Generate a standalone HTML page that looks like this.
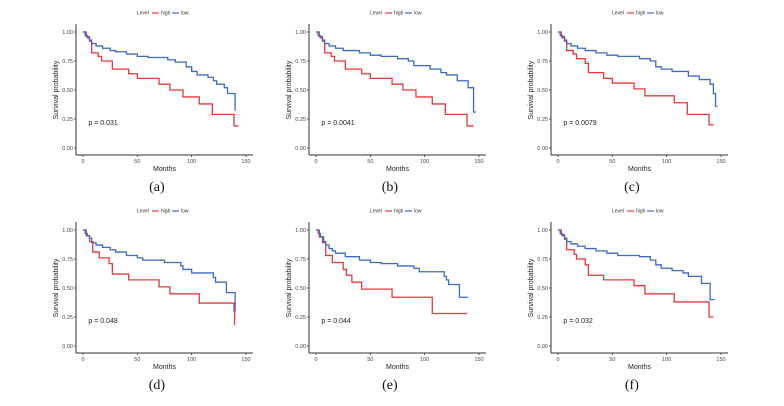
<!DOCTYPE html>
<html><head><meta charset="utf-8"><style>
html,body{margin:0;padding:0;background:#fff;}
svg{display:block;}
text{font-family:"Liberation Sans",sans-serif;}
</style></head><body>
<svg id="fig" width="784" height="406" viewBox="0 0 784 406" xmlns="http://www.w3.org/2000/svg"></svg>
<script>
const panelLabels = ["(a)","(b)","(c)","(d)","(e)","(f)"];
const pValues = ["p = 0.031","p = 0.0041","p = 0.0079","p = 0.048","p = 0.044","p = 0.032"];
const xTicks = [0,50,100,150];
const yTicks = [0,0.25,0.5,0.75,1];
const yTickLabels = ["0.00","0.25","0.50","0.75","1.00"];
const highA = [[0,1],[3,.96],[6,.92],[8,.82],[14,.79],[17,.75],[27,.68],[42,.64],[50,.6],[70,.55],[80,.5],[92,.44],[107,.38],[119,.29],[139,.19],[143,.19]];
const lowA = [[0,1],[2,.97],[4,.95],[6,.93],[8,.9],[12,.88],[18,.86],[25,.84],[30,.83],[40,.81],[50,.79],[60,.78],[78,.76],[85,.74],[95,.7],[100,.66],[105,.63],[115,.61],[120,.58],[123,.55],[130,.52],[133,.47],[140,.32]];
const highB = [[0,1],[3,.96],[6,.92],[8,.82],[14,.79],[17,.75],[27,.68],[42,.64],[50,.6],[70,.55],[80,.5],[92,.44],[107,.38],[119,.29],[139,.19],[145,.19]];
const lowB = [[0,1],[2,.97],[4,.95],[6,.93],[8,.9],[12,.88],[18,.86],[25,.84],[40,.82],[50,.8],[60,.79],[75,.77],[85,.75],[90,.71],[105,.68],[115,.65],[120,.63],[130,.58],[140,.52],[145,.31],[147,.31]];
const highC = [[0,1],[3,.96],[6,.92],[8,.84],[14,.81],[17,.77],[25,.73],[28,.65],[42,.6],[50,.56],[70,.51],[80,.45],[107,.39],[119,.29],[139,.2],[143,.2]];
const lowC = [[0,1],[2,.97],[4,.95],[6,.93],[8,.9],[12,.88],[18,.86],[25,.84],[35,.82],[45,.8],[55,.79],[75,.77],[85,.75],[90,.7],[95,.68],[105,.66],[120,.62],[130,.59],[140,.55],[143,.47],[145,.36],[147,.36]];
const highD = [[0,1],[3,.95],[6,.9],[9,.81],[15,.76],[24,.71],[27,.62],[42,.57],[70,.51],[80,.45],[107,.37],[139,.3],[139.5,.18]];
const lowD = [[0,1],[2,.97],[4,.95],[6,.93],[8,.89],[12,.87],[18,.85],[25,.83],[30,.81],[40,.78],[50,.76],[55,.74],[75,.72],[90,.69],[92,.66],[100,.63],[120,.59],[122,.55],[132,.46],[140,.3]];
const highE = [[0,1],[3,.94],[6,.89],[9,.78],[15,.72],[25,.66],[28,.61],[33,.55],[42,.49],[70,.42],[107,.28],[139,.28]];
const lowE = [[0,1],[2,.97],[4,.94],[7,.9],[9,.87],[12,.84],[15,.82],[18,.8],[27,.77],[40,.74],[50,.72],[60,.71],[75,.69],[90,.67],[95,.64],[118,.6],[120,.57],[122,.53],[132,.42],[140,.42]];
const highF = [[0,1],[3,.96],[6,.92],[8,.83],[15,.79],[17,.75],[25,.7],[28,.61],[42,.57],[70,.52],[80,.45],[107,.38],[139,.25],[143,.25]];
const lowF = [[0,1],[2,.97],[4,.95],[6,.93],[8,.9],[12,.88],[18,.86],[25,.84],[35,.82],[45,.8],[55,.78],[75,.77],[85,.74],[90,.7],[95,.67],[105,.65],[115,.63],[120,.6],[132,.54],[140,.4],[144,.4]];
const highSeries = [highA,highB,highC,highD,highE,highF];
const lowSeries = [lowA,lowB,lowC,lowD,lowE,lowF];

const NS="http://www.w3.org/2000/svg";
const svg=document.getElementById('fig');
function mk(tag,attrs,parent){const e=document.createElementNS(NS,tag);for(const k in attrs)e.setAttribute(k,attrs[k]);(parent||svg).appendChild(e);return e;}
const colX=[83,316,558], rowY=[32,230];
const W=163, H=116;
for(let i=0;i<6;i++){
  const x0=colX[i%3], y1=rowY[Math.floor(i/3)];
  const sx=t=>x0+t*W/150, sy=v=>y1+(1-v)*H;
  const g=mk('g',{});
  
  
  const axX=x0-7, axY=y1+H+7;
  const ax=mk('line',{x1:axX,y1:y1-8,x2:axX,y2:axY,stroke:'#333','stroke-width':1},g);
  
  const bx=mk('line',{x1:axX,y1:axY,x2:sx(150)+7,y2:axY,stroke:'#333','stroke-width':1},g);
  
  yTicks.forEach((v,k)=>{
    mk('line',{x1:axX-2,y1:sy(v),x2:axX,y2:sy(v),stroke:'#333','stroke-width':0.8},g);
    const t=mk('text',{x:axX-3,y:sy(v)+1.8,'font-size':5.5,'text-anchor':'end',fill:'#444'},g);
    t.textContent=yTickLabels[k];
    
  });
  xTicks.forEach(v=>{
    mk('line',{x1:sx(v),y1:axY,x2:sx(v),y2:axY+2,stroke:'#333','stroke-width':0.8},g);
    const t=mk('text',{x:sx(v),y:axY+8,'font-size':5.5,'text-anchor':'middle',fill:'#444'},g);
    t.textContent=v;
    
  });
  const xt=mk('text',{x:sx(75),y:axY+16,'font-size':7,'text-anchor':'middle',fill:'#222'},g);
  xt.textContent='Months';
  const yt=mk('text',{x:0,y:0,'font-size':7,'text-anchor':'middle',fill:'#222',transform:`translate(${axX-18},${sy(0.5)}) rotate(-90)`},g);
  yt.textContent='Survival probability';
  const ly=y1-19;
  const lg=mk('g',{},g);
  const lt=mk('text',{x:x0+54,y:ly+1.7,'font-size':5,fill:'#333'},lg);lt.textContent='Level';
  mk('line',{x1:x0+69,y1:ly,x2:x0+76,y2:ly,stroke:'#e8383d','stroke-width':1.2},lg);
  const l1=mk('text',{x:x0+78,y:ly+1.7,'font-size':5,fill:'#333'},lg);l1.textContent='high';
  mk('line',{x1:x0+89,y1:ly,x2:x0+96,y2:ly,stroke:'#3c6bc4','stroke-width':1.2},lg);
  const l2=mk('text',{x:x0+98,y:ly+1.7,'font-size':5,fill:'#333'},lg);l2.textContent='low';
  [[highSeries[i],'#e8383d','high-curve'],[lowSeries[i],'#3c6bc4','low-curve']].forEach(([s,c,n])=>{
    let d=`M${sx(s[0][0])},${sy(s[0][1])}`;
    for(let k=1;k<s.length;k++){d+=` H${sx(s[k][0])} V${sy(s[k][1])}`;}
    const p=mk('path',{d:d,fill:'none',stroke:c,'stroke-width':1.3},g);
    
  });
  const pv=mk('text',{x:sx(5),y:sy(0.2),'font-size':7,fill:'#222'},g);
  pv.textContent=pValues[i];
  const cap=mk('text',{x:sx(68),y:axY+36,'font-size':14,'text-anchor':'middle',fill:'#111',style:'font-family:"Liberation Serif",serif'},g);
  cap.textContent=panelLabels[i];
}
</script>
</body></html>
